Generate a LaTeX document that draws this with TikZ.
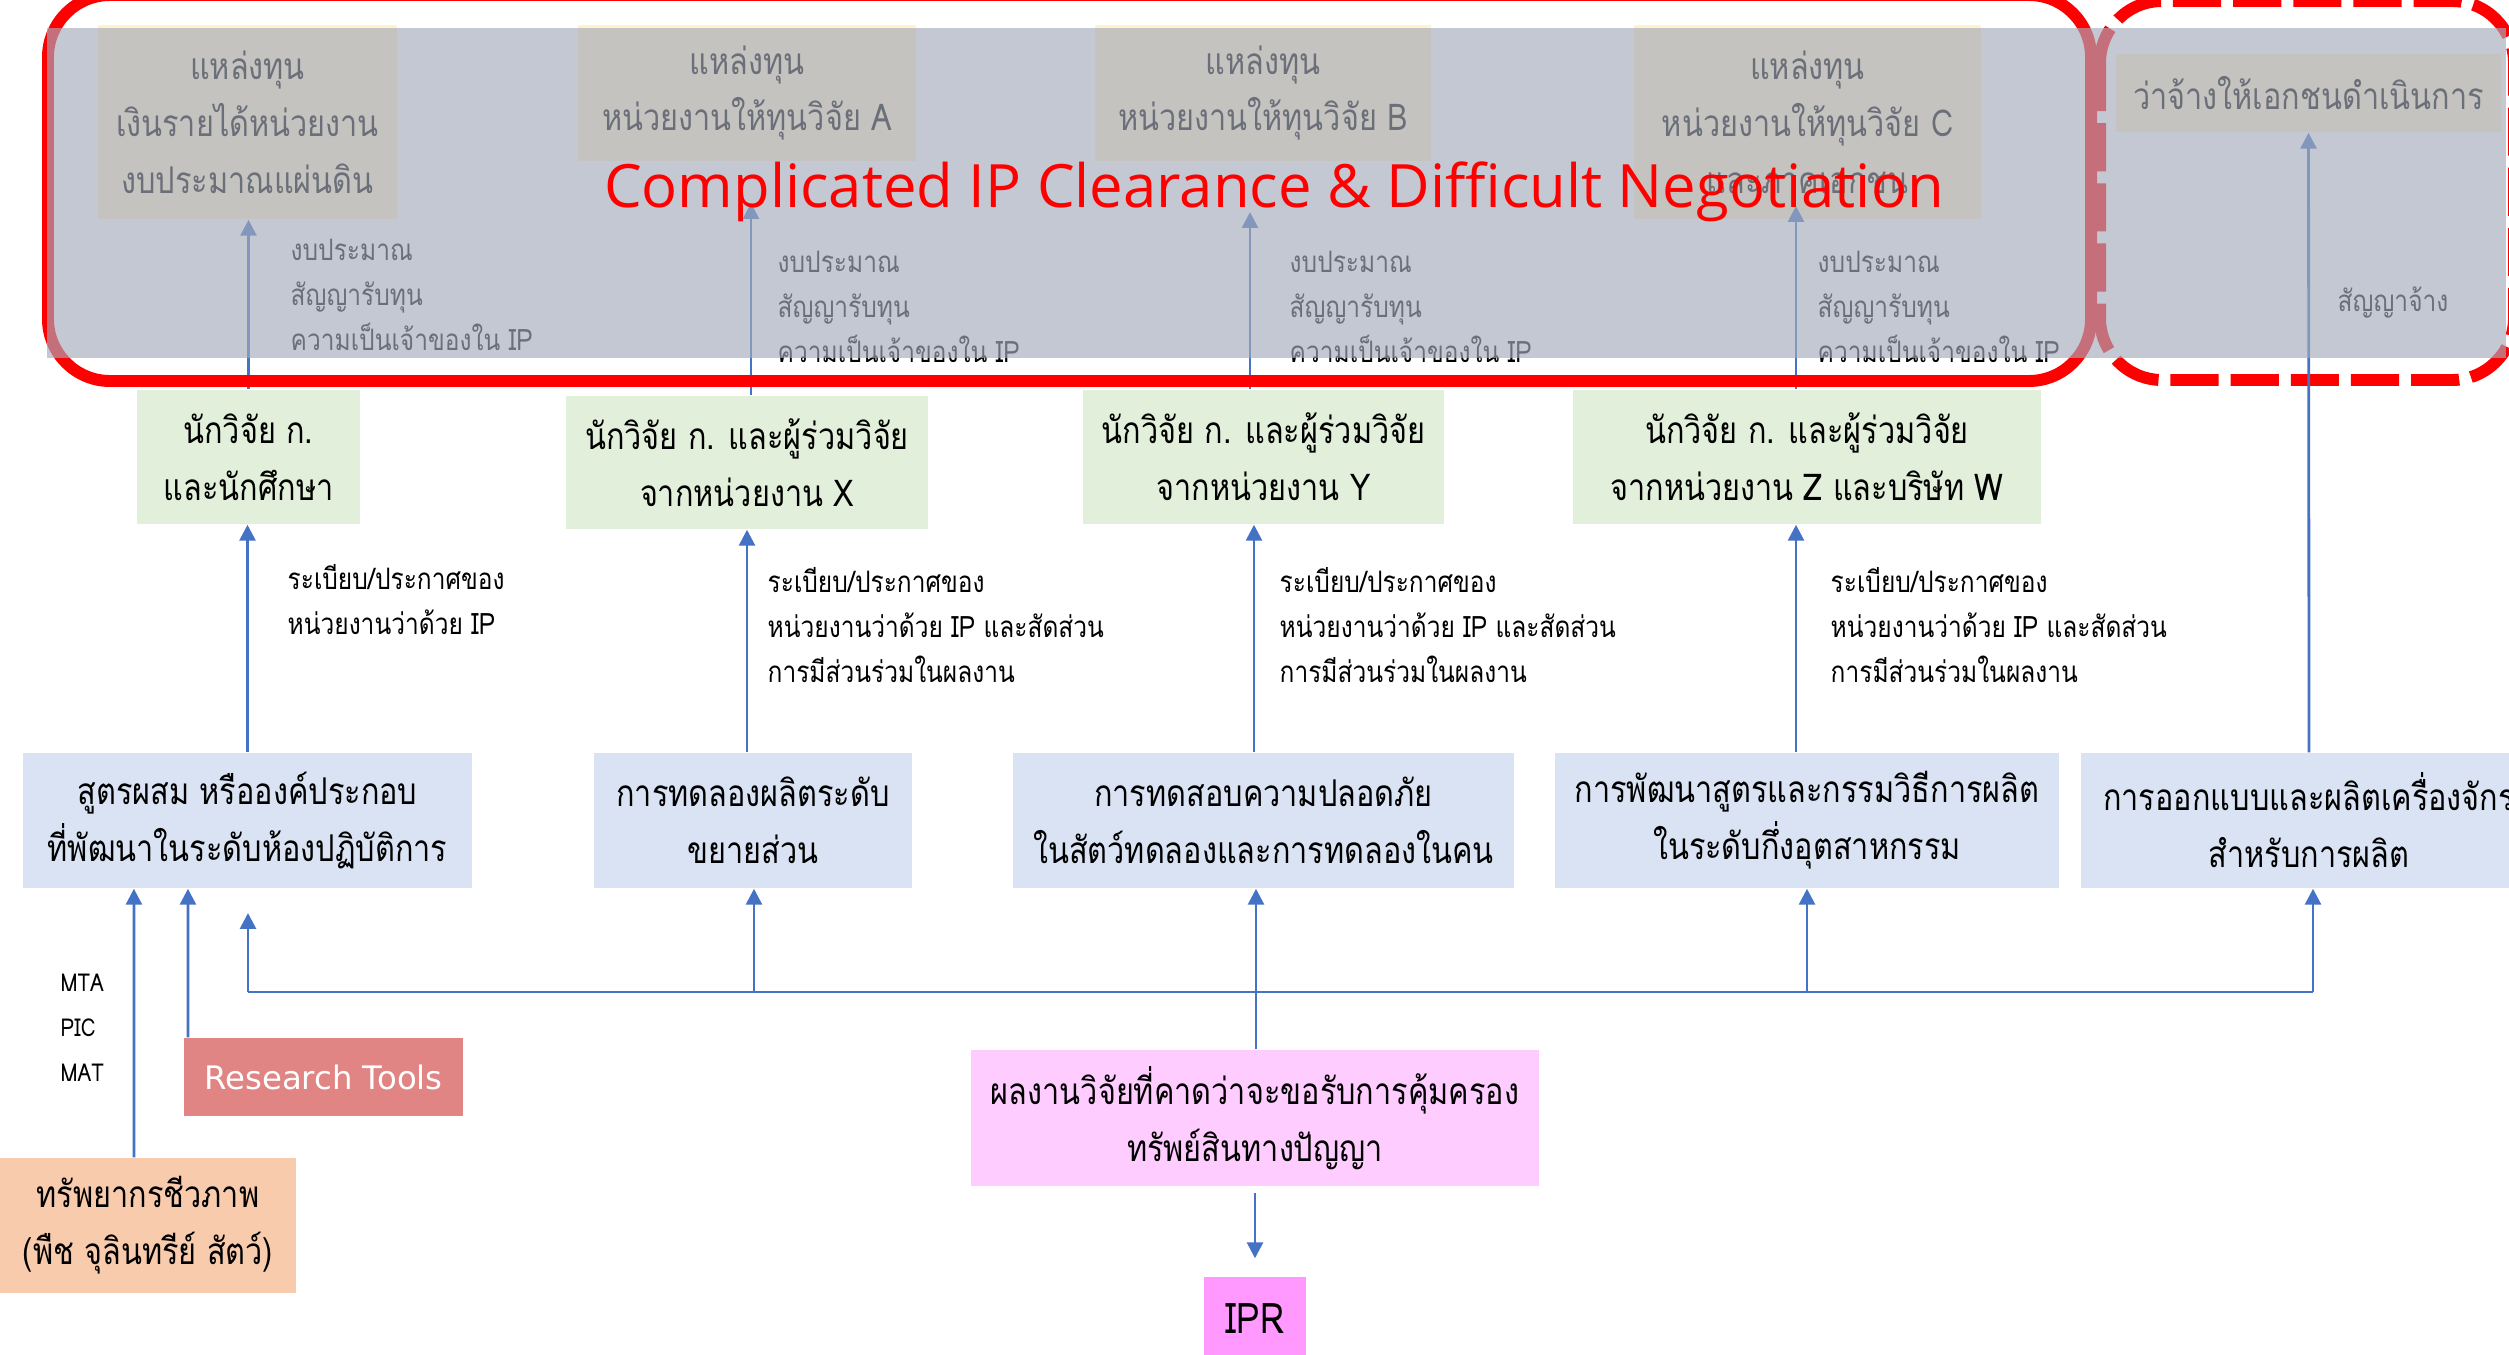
\documentclass[tikz,border=0pt]{standalone}
\usepackage{fontspec}
\setmainfont[Script=Thai,FakeStretch=0.83]{Loma}
\newfontfamily\titlefont{Open Sans}
\newfontfamily\toolfont{DejaVu Sans}
\usetikzlibrary{arrows.meta}
\definecolor{fundyellow}{HTML}{FFF2CC}
\definecolor{teamgreen}{HTML}{E2EFDA}
\definecolor{stageblue}{HTML}{DAE3F3}
\definecolor{resultpink}{HTML}{FFCCFF}
\definecolor{iprpink}{HTML}{FF99FF}
\definecolor{bioorange}{HTML}{F8CBAD}
\definecolor{toolred}{HTML}{E08583}
\definecolor{arrowblue}{HTML}{4472C4}
\definecolor{veilgray}{RGB}{165,171,186}
\begin{document}
\begin{tikzpicture}[x=0.01cm,y=-0.01cm,
    box/.style={inner sep=0pt,align=center,font=\fontsize{10.5}{16.2}\selectfont},
    fund/.style={box,fill=fundyellow},
    team/.style={box,fill=teamgreen,minimum height=1.34cm},
    stage/.style={box,fill=stageblue,minimum height=1.35cm},
    note/.style={inner sep=0pt,anchor=west,align=left,font=\fontsize{8.4}{12.8}\selectfont},
    flow/.style={draw=arrowblue,line width=0.8pt,-{Triangle[length=4.5pt,width=4.5pt]}},
    wire/.style={draw=arrowblue,line width=0.8pt},
    redframe/.style={draw=red,line width=3.4pt,rounded corners=0.62cm},
    veil/.style={fill=veilgray,fill opacity=0.65}]
    \useasboundingbox (0,0) rectangle (2509,1354);

    \node[fund,minimum width=2.99cm,minimum height=1.94cm] (f1) at (247.5,122) {แหล่งทุน\\เงินรายได้หน่วยงาน\\งบประมาณแผ่นดิน};
    \node[fund,minimum width=3.38cm,minimum height=1.36cm] (fA) at (747,93) {แหล่งทุน\\หน่วยงานให้ทุนวิจัย A};
    \node[fund,minimum width=3.36cm,minimum height=1.36cm] (fB) at (1263,93) {แหล่งทุน\\หน่วยงานให้ทุนวิจัย B};
    \node[fund,minimum width=3.47cm,minimum height=1.94cm] (fC) at (1807.5,122) {แหล่งทุน\\หน่วยงานให้ทุนวิจัย C\\และภาคเอกชน};
    \node[fund,minimum width=3.85cm,minimum height=0.78cm] (fD) at (2308.5,93) {ว่าจ้างให้เอกชนดำเนินการ};

    \node[team,minimum width=2.23cm] (g1) at (248.5,457) {นักวิจัย ก.\\และนักศึกษา};
    \node[team,minimum width=3.62cm,minimum height=1.33cm] (g2) at (747,462.5) {นักวิจัย ก. และผู้ร่วมวิจัย\\จากหน่วยงาน X};
    \node[team,minimum width=3.61cm] (g3) at (1263.5,457) {นักวิจัย ก. และผู้ร่วมวิจัย\\จากหน่วยงาน Y};
    \node[team,minimum width=4.68cm] (g4) at (1807,457) {นักวิจัย ก. และผู้ร่วมวิจัย\\จากหน่วยงาน Z และบริษัท W};

    \coordinate (endA) at (751,203);
    \coordinate (endB) at (1250,212);
    \coordinate (endC) at (1796,206);
    \draw[flow] (g1.north) -- (g1.north |- f1.south);
    \draw[flow] (endA |- g2.north) -- (endA);
    \draw[flow] (endB |- g3.north) -- (endB);
    \draw[flow] (endC |- g4.north) -- (endC);

    \node[note] (n1) at (290,295) {งบประมาณ\\สัญญารับทุน\\ความเป็นเจ้าของใน IP};
    \node[note] (n2) at (777,307) {งบประมาณ\\สัญญารับทุน\\ความเป็นเจ้าของใน IP};
    \node[note] (n3) at (1289,307) {งบประมาณ\\สัญญารับทุน\\ความเป็นเจ้าของใน IP};
    \node[note] (n4) at (1817,307) {งบประมาณ\\สัญญารับทุน\\ความเป็นเจ้าของใน IP};
    \node[note] (n5) at (2337,303) {สัญญาจ้าง};

    \draw[redframe] (48,-5) rectangle (2091,381);
    \draw[redframe,dash pattern=on 13.7pt off 3.4pt] (2100,1) rectangle (2514,380);

    \node[stage,minimum width=4.49cm] (b1) at (247.5,820.5) {สูตรผสม หรือองค์ประกอบ\\ที่พัฒนาในระดับห้องปฏิบัติการ};
    \node[stage,minimum width=3.18cm] (b2) at (753,820.5) {การทดลองผลิตระดับ\\ขยายส่วน};
    \node[stage,minimum width=5.01cm] (b3) at (1263.5,820.5) {การทดสอบความปลอดภัย\\ในสัตว์ทดลองและการทดลองในคน};
    \node[stage,minimum width=5.04cm] (b4) at (1807,820.5) {การพัฒนาสูตรและกรรมวิธีการผลิต\\ในระดับกึ่งอุตสาหกรรม};
    \node[stage,minimum width=4.56cm] (b5) at (2309,820.5) {การออกแบบและผลิตเครื่องจักร\\สำหรับการผลิต};

    \draw[flow] (b5.north) -- (fD.south);
    \fill[veil] (47,28) rectangle (2506,358);
    \node[anchor=base,inner sep=0pt,text=red,font=\titlefont\fontsize{17}{20}\selectfont] (clear) at (1274,207) {Complicated IP Clearance \& Difficult Negotiation};

    \draw[flow] (b1.north) -- (b1.north |- g1.south);
    \draw[flow] (g2.south |- b2.north) -- (g2.south);
    \draw[flow] ([xshift=-0.095cm]b3.north) -- ([xshift=-0.095cm]b3.north |- g3.south);
    \draw[flow] ([xshift=-0.11cm]b4.north) -- ([xshift=-0.11cm]b4.north |- g4.south);

    \node[note] (r1) at (287,600) {ระเบียบ/ประกาศของ\\หน่วยงานว่าด้วย IP};
    \node[note] (r2) at (767,625) {ระเบียบ/ประกาศของ\\หน่วยงานว่าด้วย IP และสัดส่วน\\การมีส่วนร่วมในผลงาน};
    \node[note] (r3) at (1279,625) {ระเบียบ/ประกาศของ\\หน่วยงานว่าด้วย IP และสัดส่วน\\การมีส่วนร่วมในผลงาน};
    \node[note] (r4) at (1830,625) {ระเบียบ/ประกาศของ\\หน่วยงานว่าด้วย IP และสัดส่วน\\การมีส่วนร่วมในผลงาน};

    \node[box,fill=resultpink,minimum width=5.68cm,minimum height=1.36cm] (res) at (1255,1118) {ผลงานวิจัยที่คาดว่าจะขอรับการคุ้มครอง\\ทรัพย์สินทางปัญญา};
    \node[box,fill=iprpink,minimum width=1.02cm,minimum height=0.83cm,font=\fontsize{12}{14}\selectfont] (ipr) at (1255,1318.5) {IPR};
    \node[box,fill=bioorange,minimum width=2.96cm,minimum height=1.35cm] (bio) at (148,1225.5) {ทรัพยากรชีวภาพ\\(พืช จุลินทรีย์ สัตว์)};
    \node[box,fill=toolred,minimum width=2.79cm,minimum height=0.78cm,text=white,font=\toolfont\fontsize{9.2}{10}\selectfont] (tools) at (323.5,1077) {Research Tools};
    \node[note,font=\fontsize{7}{12.8}\selectfont] (mta) at (60,1028) {MTA\\PIC\\MAT};

    \coordinate (bus1) at (248,992);
    \coordinate (bus2) at (754,992);
    \coordinate (bus3) at (1256,992);
    \coordinate (bus4) at (1807,992);
    \coordinate (bus5) at (2313,992);
    \coordinate (tip1) at (248,913);
    \draw[wire] (bus1) -- (bus5);
    \draw[flow] (bus1) -- (tip1);
    \draw[flow] (bus2) -- (bus2 |- b2.south);
    \draw[flow] (res.north -| bus3) -- (bus3 |- b3.south);
    \draw[flow] (bus4) -- (bus4 |- b4.south);
    \draw[flow] (bus5) -- (bus5 |- b5.south);
    \draw[flow,shorten <=0.06cm,shorten >=0.18cm] (res.south) -- (ipr.north);
    \draw[flow] ([xshift=-0.14cm]bio.north) -- ([xshift=-1.135cm]b1.south);
    \draw[flow] ([xshift=-1.355cm]tools.north) -- ([xshift=-0.595cm]b1.south);
\end{tikzpicture}
\end{document}
